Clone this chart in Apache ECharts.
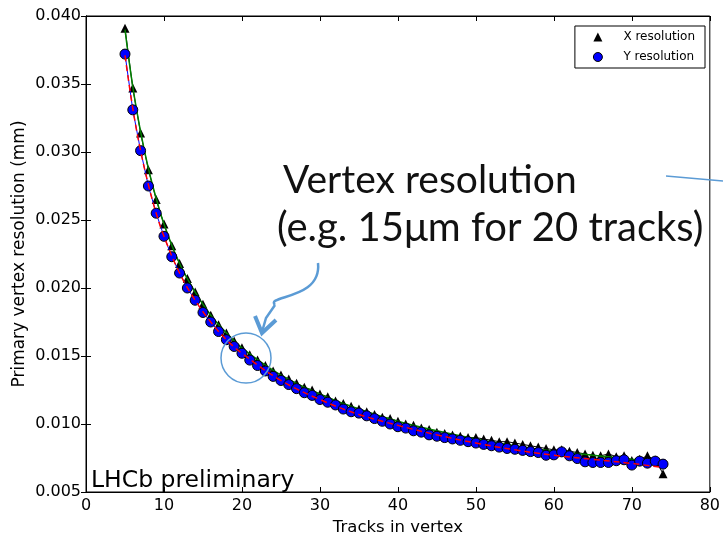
<!DOCTYPE html>
<html>
<head>
<meta charset="utf-8">
<script src="https://cdn.jsdelivr.net/npm/echarts@6/dist/echarts.min.js"></script>
<style>
html,body{margin:0;padding:0;background:#fff;}
#chart{width:723px;height:541px;}
</style>
</head>
<body>
<div id="chart"></div>
<script>
// tracks per vertex (x)
var tracks = [5,6,7,8,9,10,11,12,13,14,15,16,17,18,19,20,21,22,23,24,25,26,27,28,29,30,31,32,33,34,35,36,37,38,39,40,
    41,42,43,44,45,46,47,48,49,50,51,52,53,54,55,56,57,58,59,60,61,62,63,64,65,66,67,68,69,70,71,72,73,74];

var xRes = [0.0391,0.0347,0.0314,0.0287,0.0265,0.0247,0.0231,0.0218,0.0207,0.0197,0.0188,0.0180,0.0173,0.0167,0.0161,0.0156,
    0.0151,0.0147,0.0143,0.0139,0.0136,0.0133,0.0130,0.0127,0.0125,0.0122,0.0120,0.0117,0.0115,0.0113,0.0111,0.0109,
    0.0107,0.0105,0.0104,0.0102,0.0100,0.0099,0.0097,0.0096,0.0094,0.0093,0.0092,0.0091,0.0090,0.0090,0.0089,0.0088,
    0.0087,0.0087,0.0086,0.0085,0.0084,0.0083,0.0082,0.0081,0.0081,0.0080,0.0079,0.0078,0.0077,0.00766,0.00780,0.00760,
    0.00766,0.00732,0.00740,0.00766,0.00735,0.00635];

var yRes = [0.0372,0.0331,0.0301,0.0275,0.0255,0.0238,0.0223,0.0211,0.0200,0.0191,0.0182,0.0175,0.0168,0.0162,0.0157,0.0152,
    0.0147,0.0143,0.0139,0.0135,0.0132,0.0129,0.0126,0.0123,0.0121,0.0118,0.0116,0.0114,0.0111,0.0109,0.0108,0.0106,
    0.0104,0.0102,0.0100,0.0098,0.0097,0.0095,0.0094,0.0092,0.0091,0.0090,0.0089,0.0088,0.0087,0.0086,0.0085,0.0084,
    0.0083,0.0082,0.00814,0.00806,0.00797,0.0079,0.0077,0.00773,0.00795,0.00766,0.00746,0.00722,0.00717,0.00717,0.00717,0.0073,
    0.00737,0.00698,0.00727,0.00712,0.00727,0.00705];

// fitted curves
var fitTracks = [5,6,7,8,9,10,12,14,16,18,20,25,30,35,40,45,50,55,60,65,70,74];
var xFit = [0.0390,0.0348,0.0315,0.0288,0.0266,0.0247,0.0218,0.0197,0.0180,0.0167,0.0156,0.0136,0.0122,0.0111,0.0102,
    0.0095,0.0089,0.0084,0.0080,0.0077,0.0074,0.0072];
var yFit = [0.0371,0.0332,0.0301,0.0276,0.0255,0.0238,0.0211,0.0191,0.0175,0.0162,0.0152,0.0132,0.0118,0.0107,0.0099,
    0.0092,0.0086,0.0081,0.0077,0.0074,0.0071,0.0068];

var xTicks = [0,10,20,30,40,50,60,70,80];

function pairs(xs, ys){
    return xs.map(function(x,i){ return [x, ys[i]]; });
}

var chart = echarts.init(document.getElementById('chart'));
var tickFont = {fontFamily:'DejaVu Sans', fontSize:16, color:'#000'};
var option = {
    animation:false,
    backgroundColor:'#fff',
    grid:{left:86, right:11, top:16, bottom:41, show:true, borderColor:'#000', borderWidth:1},
    legend:{
        orient:'vertical',
        right:18, top:26,
        padding:[5,10,5,18],
        itemGap:8,
        itemWidth:9, itemHeight:9,
        borderColor:'#000', borderWidth:1,
        textStyle:{fontFamily:'DejaVu Sans', fontSize:12, color:'#000', padding:[0,0,0,16]},
        data:[{name:'X resolution', icon:'triangle', itemStyle:{color:'#000'}},
              {name:'Y resolution', icon:'circle', itemStyle:{color:'#0000ff', borderColor:'#000', borderWidth:1}}]
    },
    xAxis:[{
        type:'value', min:0, max:80, interval:10,
        name:'Tracks in vertex', nameLocation:'middle', nameGap:27,
        nameTextStyle:{fontFamily:'DejaVu Sans', fontSize:16.5, color:'#000'},
        axisLine:{show:true, lineStyle:{color:'#000'}},
        axisTick:{show:true, inside:true, length:5, lineStyle:{color:'#000'}},
        axisLabel:Object.assign({margin:6, formatter:function(v){ return xTicks.indexOf(v) >= 0 ? String(v) : ''; }}, tickFont),
        splitLine:{show:false}
    },{
        type:'value', min:0, max:80, interval:10, position:'top',
        axisLine:{show:true, lineStyle:{color:'#000'}},
        axisTick:{show:true, inside:true, length:5, lineStyle:{color:'#000'}},
        axisLabel:{show:false}, splitLine:{show:false}
    }],
    yAxis:[{
        type:'value', min:0.005, max:0.040, interval:0.005,
        name:'Primary vertex resolution (mm)', nameLocation:'middle', nameGap:58, nameRotate:90,
        nameMoveOverlap:false,
        nameTextStyle:{fontFamily:'DejaVu Sans', fontSize:17, color:'#000'},
        axisLine:{show:true, lineStyle:{color:'#000'}},
        axisTick:{show:true, inside:true, length:5, lineStyle:{color:'#000'}},
        axisLabel:Object.assign({margin:5, formatter:function(v){ return v.toFixed(3); }}, tickFont),
        splitLine:{show:false}
    },{
        type:'value', min:0.005, max:0.040, interval:0.005, position:'right',
        axisLine:{show:true, lineStyle:{color:'#000'}},
        axisTick:{show:true, inside:true, length:5, lineStyle:{color:'#000'}},
        axisLabel:{show:false}, splitLine:{show:false}
    }],
    series:[{
        name:'X resolution', type:'line', data:pairs(tracks, xRes),
        symbol:'triangle', symbolSize:9,
        itemStyle:{color:'#000'},
        lineStyle:{color:'#000', width:1},
        z:2
    },{
        name:'X fit', type:'line', data:pairs(fitTracks, xFit),
        smooth:0.4, symbol:'none',
        lineStyle:{color:'#008000', width:1.5},
        z:3
    },{
        name:'Y resolution', type:'line', data:pairs(tracks, yRes),
        symbol:'circle', symbolSize:10,
        itemStyle:{color:'#0000ff', borderColor:'#000', borderWidth:1},
        lineStyle:{color:'#0000ff', width:1},
        z:4
    },{
        name:'Y fit', type:'line', data:pairs(fitTracks, yFit),
        smooth:0.4, symbol:'none',
        lineStyle:{color:'#ff0000', width:1.5, type:[6,4]},
        z:5
    }],
    graphic:[{
        type:'text', left:283, top:161, z:10,
        style:{text:'Vertex resolution', font:'39px Lato', fill:'#111'}
    },{
        type:'text', left:277, top:208, z:10,
        style:{text:'(e.g. 15\u03bcm for 20 tracks)', font:'40px Lato', fill:'#111'}
    },{
        type:'text', left:91, top:469, z:10,
        style:{text:'LHCb preliminary', font:'23.5px "DejaVu Sans"', fill:'#000'}
    },{
        type:'circle', z:10,
        shape:{cx:246, cy:358, r:25},
        style:{fill:'none', stroke:'#5b9bd5', lineWidth:1.5}
    },{
        type:'bezierCurve', z:10,
        shape:{x1:318, y1:263, cpx1:322, cpy1:300, x2:275, y2:305, cpx2:265, cpy2:295},
        style:{stroke:'#5b9bd5', lineWidth:2.5, fill:'none'}
    },{
        type:'polyline', z:10,
        shape:{points:[[275,305],[266,318],[262,332]]},
        style:{stroke:'#5b9bd5', lineWidth:2.5, fill:'none'}
    },{
        type:'polyline', z:10,
        shape:{points:[[255,316],[262,333],[276,320]]},
        style:{stroke:'#5b9bd5', lineWidth:4, fill:'none', lineJoin:'miter'}
    },{
        type:'line', z:10,
        shape:{x1:666, y1:176, x2:723, y2:181},
        style:{stroke:'#5b9bd5', lineWidth:1.5}
    }]
};
chart.setOption(option);
</script>
</body>
</html>
